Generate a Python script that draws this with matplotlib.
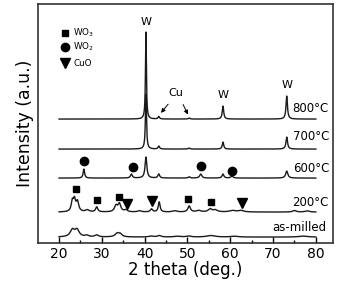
import numpy as np
import matplotlib
matplotlib.use("Agg")
import matplotlib.pyplot as plt
from matplotlib.ticker import MultipleLocator

# ---- data (y in arbitrary offset units) ----
labels = ["as-milled", "200°C", "600°C", "700°C", "800°C"]
offsets = [6, 31, 65, 94, 124]

# peak lists: (position 2theta, height, half-width)
pk_asmilled_pos = [23.1, 24.2, 26.5, 28.8, 33.6, 34.3, 41.5, 43.4, 47.5, 50.2, 55.5, 61.0, 77.0]
pk_asmilled_h   = [7,    7,    1.5,  2,    3.5,  2.5,  1,    1.5,  0.8,  1,    1.5,  0.8,  1]
pk_asmilled_w   = [0.6,  0.6,  0.5,  0.5,  0.6,  0.5,  0.6,  0.5,  0.8,  0.6,  1.2,  1.0,  1.2]

pk_200_pos = [23.1, 23.6, 24.3, 26.6, 28.8, 33.3, 34.1, 35.6, 38.8, 41.6, 43.4, 47.0, 50.4, 52.6, 55.3, 56.5, 60.5, 62.5, 75.0, 78.0]
pk_200_h   = [10,   11,   10,   2,    5,    6,    8,    2,    1.2,  3,    10,   1.2,  6,    1.5,  3,    2,    1.5,  1.5,  1.5,  1.2]
pk_200_w   = [0.3,  0.3,  0.35, 0.5,  0.3,  0.4,  0.4,  0.4,  0.5,  0.3,  0.25, 0.6,  0.35, 0.6,  0.5,  0.6,  0.8,  0.8,  0.5,  0.6]

pk_600_pos = [25.8, 36.9, 40.3, 43.3, 50.4, 53.1, 58.3, 60.4, 73.2]
pk_600_h   = [9,    4,    21,   4,    1.2,  4,    4,    2,    7]
pk_600_w   = [0.2,  0.25, 0.25, 0.25, 0.25, 0.3,  0.25, 0.3,  0.3]

pk_700_pos = [40.3, 43.3, 50.4, 58.3, 73.2]
pk_700_h   = [55,   3,    1,    7,    12]
pk_700_w   = [0.15, 0.2,  0.2,  0.2,  0.22]

pk_800_pos = [40.3, 43.3, 50.4, 58.3, 73.2]
pk_800_h   = [87,   2.5,  1,    13,   23]
pk_800_w   = [0.13, 0.2,  0.2,  0.2,  0.2]

# phase markers
wo3_x = [24.0, 28.9, 34.0, 50.1, 55.5]
wo3_y = [54, 43, 46, 44, 41]
wo2_x = [25.8, 37.3, 53.2, 60.4]
wo2_y = [82, 76, 77, 72]
cuo_x = [35.9, 41.7, 62.8]
cuo_y = [39, 42, 40]

x = np.linspace(20, 80, 6001)

def pattern(pos, h, w, base):
    y = np.full_like(x, float(base))
    for p, hh, ww in zip(pos, h, w):
        y += hh * ww**2 / ((x - p)**2 + ww**2)
    return y

peaks = [
    (pk_asmilled_pos, pk_asmilled_h, pk_asmilled_w),
    (pk_200_pos, pk_200_h, pk_200_w),
    (pk_600_pos, pk_600_h, pk_600_w),
    (pk_700_pos, pk_700_h, pk_700_w),
    (pk_800_pos, pk_800_h, pk_800_w),
]

fig = plt.figure(figsize=(3.37, 2.87), dpi=100)
ax = fig.add_axes([0.113, 0.153, 0.875, 0.833])

for (pos, h, w), off in zip(peaks, offsets):
    ax.plot(x, pattern(pos, h, w, off), color="#1a1a1a", lw=1.0)

ax.plot(wo3_x, wo3_y, "s", color="black", ms=4.8, ls="none")
ax.plot(wo2_x, wo2_y, "o", color="black", ms=6, ls="none")
ax.plot(cuo_x, cuo_y, "v", color="black", ms=6.5, ls="none")

# legend (manual)
ax.plot([21.4], [210], "s", color="black", ms=4.8)
ax.plot([21.4], [196], "o", color="black", ms=6)
ax.plot([21.4], [180], "v", color="black", ms=6.5)
ax.text(23.3, 210, "WO$_3$", fontsize=6.3, va="center")
ax.text(23.3, 196, "WO$_2$", fontsize=6.3, va="center")
ax.text(23.3, 180, "CuO", fontsize=6.3, va="center")

# peak labels
ax.text(40.3, 221, "W", fontsize=8, ha="center", va="center")
ax.text(58.3, 148, "W", fontsize=8, ha="center", va="center")
ax.text(73.2, 158, "W", fontsize=8, ha="center", va="center")
ax.text(47.3, 150, "Cu", fontsize=8, ha="center", va="center")
ax.annotate("", xy=(43.4, 128), xytext=(45.9, 141),
            arrowprops=dict(arrowstyle="-|>", color="black", lw=0.7, mutation_scale=6))
ax.annotate("", xy=(50.4, 126), xytext=(48.7, 141),
            arrowprops=dict(arrowstyle="-|>", color="black", lw=0.7, mutation_scale=6))

# temperature labels
ax.text(74.4, 135, "800°C", fontsize=8.5, va="center")
ax.text(74.6, 107, "700°C", fontsize=8.5, va="center")
ax.text(74.7, 75, "600°C", fontsize=8.5, va="center")
ax.text(74.4, 41, "200°C", fontsize=8.5, va="center")
ax.text(69.8, 16, "as-milled", fontsize=8.5, va="center")

ax.set_xlim(15.1, 84)
ax.set_ylim(0, 239)
ax.set_yticks([])
ax.xaxis.set_minor_locator(MultipleLocator(5))
ax.set_xticks(np.arange(20, 81, 10))
ax.tick_params(axis="x", which="both", direction="in", top=False, labelsize=10, pad=3)
ax.tick_params(axis="x", which="major", length=4.5, width=1)
ax.tick_params(axis="x", which="minor", length=2.5, width=1)
for s in ax.spines.values():
    s.set_linewidth(1.2)
    s.set_color("#333333")
ax.set_xlabel("2 theta (deg.)", fontsize=12, labelpad=0)
ax.set_ylabel("Intensity (a.u.)", fontsize=12.5, labelpad=3)

fig.savefig("out.png", dpi=100)
